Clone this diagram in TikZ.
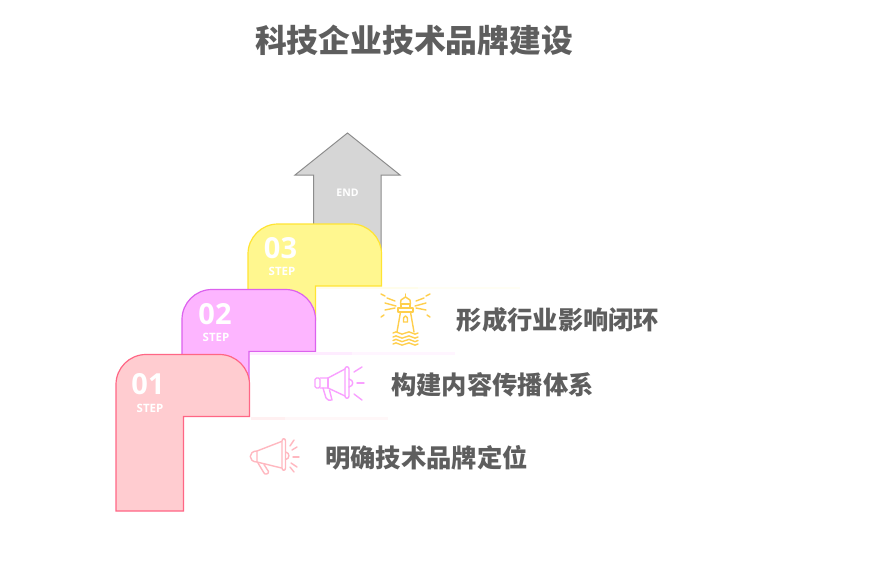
\documentclass[tikz,border=0pt]{standalone}
\usepackage{fontspec}
\setmainfont{Open Sans}
\newfontfamily\cjk{Noto Sans CJK SC}

\definecolor{endfill}{HTML}{D6D6D6}
\definecolor{enddraw}{HTML}{8C8C8C}
\definecolor{redfill}{HTML}{FFCCD0}
\definecolor{reddraw}{HTML}{FF6685}
\definecolor{pinkfill}{HTML}{FDB5FF}
\definecolor{pinkdraw}{HTML}{DC62EE}
\definecolor{yellowfill}{HTML}{FFF78F}
\definecolor{yellowdraw}{HTML}{FFE433}
\definecolor{redicon}{HTML}{FFB8C0}
\definecolor{pinkicon}{HTML}{F9A0FF}
\definecolor{yellowicon}{HTML}{FFCF4D}
\definecolor{textgray}{HTML}{5E5E5E}

\begin{document}
\begin{tikzpicture}[x=1pt, y=-1pt,
    num/.style={text=white, inner sep=0pt, font=\fontsize{29}{32}\selectfont\bfseries},
    tag/.style={text=white, inner sep=0pt, font=\fontsize{11.5}{13}\selectfont\bfseries},
    label/.style={text=textgray, inner sep=0pt, font=\cjk\fontsize{25.3}{30}\selectfont\bfseries},
    icon/.style={line width=1.4pt, line cap=round, line join=round, fill=none}]
  \useasboundingbox[fill=white] (0, 0) rectangle (886, 570);

  \node[text=textgray, inner sep=0pt, font=\cjk\fontsize{31.8}{36}\selectfont\bfseries] (title) at (414, 40) {科技企业技术品牌建设};

  % 箭头
  \draw[fill=endfill, draw=enddraw, line width=1pt, line join=miter]
    (347.5, 133) -- (400, 175) -- (381, 175) -- (381, 260) -- (313.5, 260) -- (313.5, 175) -- (295, 175) -- cycle;
  \node[tag, font=\fontsize{10.5}{12}\selectfont\bfseries] (endtag) at (347.5, 192.5) {END};

  % 三级台阶
  \draw[fill=yellowfill, draw=yellowdraw, line width=1.2pt]
    (248, 320) [rounded corners=30pt] -- (248, 224) -- (381.5, 224) [sharp corners] -- (381.5, 286) -- (315.5, 286) -- (315.5, 320) -- cycle;
  \draw[fill=pinkfill, draw=pinkdraw, line width=1.2pt]
    (182, 385) [rounded corners=30pt] -- (182, 289.5) -- (315.5, 289.5) [sharp corners] -- (315.5, 351.5) -- (249, 351.5) -- (249, 385) -- cycle;
  \draw[fill=redfill, draw=reddraw, line width=1.2pt]
    (116, 511) [rounded corners=30pt] -- (116, 354.5) -- (249.5, 354.5) [sharp corners] -- (249.5, 416.5) -- (183.5, 416.5) -- (183.5, 511) -- cycle;

  % 浅色横条
  \fill[yellowfill!10] (316.5, 286.5) rectangle (520, 289);
  \fill[yellowfill!18] (316.5, 286.5) rectangle (418, 289);
  \fill[pinkfill!14] (250, 352) rectangle (455, 354.5);
  \fill[pinkfill!26] (250, 352) rectangle (352, 354.5);
  \fill[redfill!16] (250.5, 417) rectangle (388, 419.5);
  \fill[redfill!30] (250.5, 417) rectangle (285, 419.5);

  \node[num] (num3) at (280.5, 248) {03};
  \node[tag] (step3) at (282, 271) {STEP};
  \node[num] (num2) at (215, 314) {02};
  \node[tag] (step2) at (216, 337.5) {STEP};
  \node[num] (num1) at (148, 384) {01};
  \node[tag] (step1) at (150, 408) {STEP};

  % 灯塔
  \begin{scope}[icon, draw=yellowicon]
    \draw (405.5, 294) -- (405.5, 297);
    \draw (400.5, 304) -- (401, 300) -- (405.5, 297) -- (410, 300) -- (410.5, 304);
    \draw (401, 304) rectangle (410, 308);
    \draw (398, 308) rectangle (413, 312);
    \draw (400.5, 312) -- (397, 332);
    \draw (410.5, 312) -- (414, 332);
    \draw (405.5, 316) .. controls (403.5, 316) and (403.5, 318) .. (403.5, 322) -- (407.5, 322) .. controls (407.5, 318) and (407.5, 316) .. (405.5, 316);
    \foreach \y in {333, 337, 340.5, 344} {
      \draw (393, \y) .. controls (395, \y-1.5) and (397, \y-1.5) .. (399, \y) .. controls (401, \y+1.5) and (403, \y+1.5) .. (405.5, \y)
        .. controls (408, \y-1.5) and (410, \y-1.5) .. (412, \y) .. controls (414, \y+1.5) and (416, \y+1.5) .. (418, \y);
    }
    \draw (381, 294) -- (385, 296);
    \draw (387, 298) -- (395, 301);
    \draw (385, 303) -- (396, 306);
    \draw (385, 310) -- (395, 308);
    \draw (381, 317) -- (384, 315);
    \draw (430, 294) -- (426, 296);
    \draw (424, 298) -- (416, 301);
    \draw (426, 303) -- (415, 306);
    \draw (426, 310) -- (416, 308);
    \draw (430, 317) -- (427, 315);
  \end{scope}
  \node[label] (text3) at (558, 320) {形成行业影响闭环};

  % 喇叭（中）
  \begin{scope}[icon, draw=pinkicon]
    \draw[rounded corners=1.5pt] (320, 378) -- (315, 378) -- (315, 388) -- (320, 388) -- cycle;
    \draw (320, 378) -- (328, 378) -- (345, 369);
    \draw (320, 388) -- (328, 388) -- (345, 396);
    \draw (328, 378) -- (328, 388);
    \draw (345, 369) .. controls (345, 366) and (349, 366) .. (349, 369) -- (349, 396) .. controls (349, 399) and (345, 399) .. (345, 396) -- cycle;
    \draw (349, 379) .. controls (354, 380) and (354, 386) .. (349, 387);
    \draw (323, 388) -- (326, 398) .. controls (327, 400) and (330, 401) .. (332, 400) -- (329.5, 390);
    \draw (354, 372) -- (362, 367);
    \draw (357, 383) -- (364, 383);
    \draw (354, 394) -- (362, 400);
  \end{scope}
  \node[label] (text2) at (492.5, 385) {构建内容传播体系};

  % 喇叭（下）
  \begin{scope}[icon, draw=redicon]
    \draw (257, 451) -- (281.5, 441.5);
    \draw (257, 462) -- (281.5, 468);
    \draw (257, 451) .. controls (248, 451) and (248, 462) .. (257, 462) -- cycle;
    \draw (282, 441) .. controls (282, 438) and (285.5, 438) .. (285.5, 441) -- (285.5, 468) .. controls (285.5, 471) and (282, 471) .. (282, 468) -- cycle;
    \draw (285.5, 452) .. controls (290, 452.5) and (290, 459) .. (285.5, 459.5);
    \draw (258, 463) -- (264, 473) .. controls (265, 475) and (269, 474) .. (268.5, 471.5) -- (264, 464.5);
    \draw (290, 446) -- (294, 440);
    \draw (292, 450) -- (297, 447);
    \draw (293, 457) -- (299, 457);
    \draw (291, 463) -- (297, 467);
    \draw (290, 467) -- (294, 472);
  \end{scope}
  \node[label] (text1) at (426.5, 458) {明确技术品牌定位};
\end{tikzpicture}
\end{document}
